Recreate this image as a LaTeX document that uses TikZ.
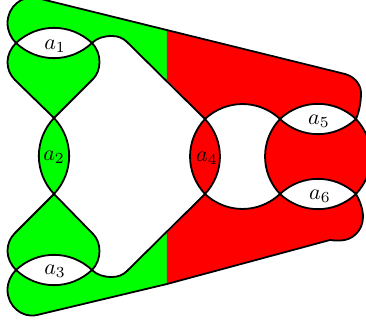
\documentclass[tikz,border=0pt]{standalone}
\tikzset{
  every picture/.style={line width=0.9pt},
  outline/.style={draw=black, line join=round},
  lab/.style={inner sep=0pt, scale=1.1},
  lensup/.style={bend left=43},
  lensdn/.style={bend right=43},
}
\begin{document}
\begin{tikzpicture}[x=0.5pt, y=-0.5pt]
  \clip (0,0) rectangle (366,321);
  % crossing points
  \coordinate (a1l) at (16,43);  \coordinate (a1r) at (92,43);
  \coordinate (a2t) at (54,118); \coordinate (a2b) at (54,194);
  \coordinate (a3l) at (16,270); \coordinate (a3r) at (92,270);
  \coordinate (a4t) at (205,119); \coordinate (a4b) at (205,194);
  \coordinate (a5l) at (280,119); \coordinate (a5r) at (356,119);
  \coordinate (a6l) at (280,194); \coordinate (a6r) at (356,194);
  % green parts
  \fill[green] (a1l) .. controls (11,38) and (7.5,31) .. (7.5,23) .. controls (7.5,7) and (22,-5.5) .. (37,-2)
    -- (167,30) -- (167,80) -- (127,42) .. controls (123,38) and (118,36) .. (112,36)
    .. controls (104,36) and (97,38) .. (a1r) to[lensdn] (a1l);
  \fill[green] (a1l) to[lensdn] (a1r) .. controls (97,48) and (99.5,55) .. (99.5,62) .. controls (99.5,69) and (97,75) .. (93,79)
    -- (a2t) -- (15,80) .. controls (10,75) and (7.5,69) .. (7.5,62) .. controls (7.5,55) and (11,48) .. (a1l);
  \fill[green] (a2t) to[lensup] (a2b) to[lensup] (a2t);
  \fill[green] (a3l) to[lensup] (a3r) .. controls (97,265) and (99.5,258) .. (99.5,251) .. controls (99.5,244) and (97,238) .. (93,234)
    -- (a2b) -- (15,233) .. controls (10,238) and (7.5,244) .. (7.5,251) .. controls (7.5,258) and (11,265) .. (a3l);
  \fill[green] (a3l) .. controls (11,275) and (7.5,282) .. (7.5,290) .. controls (7.5,306) and (22,318.5) .. (37,315)
    -- (167,284) -- (167,233) -- (127,271) .. controls (123,275) and (118,277) .. (112,277)
    .. controls (104,277) and (97,275) .. (a3r) to[lensup] (a3l);
  % red parts
  \fill[red] (167,30) -- (345,74) .. controls (354,76.5) and (361,84) .. (361,93) .. controls (361,103) and (359,112) .. (a5r)
    to[lensdn] (a5l) to[lensdn] (a4t) -- (167,80) -- cycle;
  \fill[red] (a4t) to[lensup] (a4b) to[lensup] (a4t);
  \fill[red] (a5l) to[lensdn] (a5r) to[lensup] (a6r) to[lensdn] (a6l) to[lensup] (a5l);
  \fill[red] (167,284) -- (330,240) .. controls (333,240.5) and (337,240.5) .. (340,240.5) .. controls (353,240.5) and (363,230) .. (363,217)
    .. controls (363,209) and (360,201) .. (a6r) to[lensup] (a6l) to[lensup] (a4b) -- (167,233) -- cycle;
  % outlines, top
  \draw[outline] (a1l) .. controls (11,38) and (7.5,31) .. (7.5,23) .. controls (7.5,7) and (22,-5.5) .. (37,-2)
    -- (345,74) .. controls (354,76.5) and (361,84) .. (361,93) .. controls (361,103) and (359,112) .. (a5r);
  \draw[outline] (a1l) to[lensup] (a1r);
  \draw[outline] (a1l) to[lensdn] (a1r);
  \draw[outline] (a1l) .. controls (11,48) and (7.5,55) .. (7.5,62) .. controls (7.5,69) and (10,75) .. (15,80) -- (a2t);
  \draw[outline] (a1r) .. controls (97,48) and (99.5,55) .. (99.5,62) .. controls (99.5,69) and (97,75) .. (93,79) -- (a2t);
  \draw[outline] (a1r) .. controls (97,38) and (104,36) .. (112,36) .. controls (118,36) and (123,38) .. (127,42) -- (a4t);
  % outlines, bottom
  \draw[outline] (a3l) .. controls (11,275) and (7.5,282) .. (7.5,290) .. controls (7.5,306) and (22,318.5) .. (37,315)
    -- (167,284) -- (330,240) .. controls (333,240.5) and (337,240.5) .. (340,240.5) .. controls (353,240.5) and (363,230) .. (363,217)
    .. controls (363,209) and (360,201) .. (a6r);
  \draw[outline] (a3l) to[lensup] (a3r);
  \draw[outline] (a3l) to[lensdn] (a3r);
  \draw[outline] (a3l) .. controls (11,265) and (7.5,258) .. (7.5,251) .. controls (7.5,244) and (10,238) .. (15,233) -- (a2b);
  \draw[outline] (a3r) .. controls (97,265) and (99.5,258) .. (99.5,251) .. controls (99.5,244) and (97,238) .. (93,234) -- (a2b);
  \draw[outline] (a3r) .. controls (97,275) and (104,277) .. (112,277) .. controls (118,277) and (123,275) .. (127,271) -- (a4b);
  % lenses
  \draw[outline] (a2t) to[lensup] (a2b) to[lensup] (a2t);
  \draw[outline] (a4t) to[lensup] (a4b) to[lensup] (a4t);
  \draw[outline] (a4t) to[lensup] (a5l);
  \draw[outline] (a4b) to[lensdn] (a6l);
  \draw[outline] (a5l) to[lensup] (a5r);
  \draw[outline] (a5l) to[lensdn] (a5r);
  \draw[outline] (a6l) to[lensup] (a6r);
  \draw[outline] (a6l) to[lensdn] (a6r);
  \draw[outline] (a5l) to[lensdn] (a6l);
  \draw[outline] (a5r) to[lensup] (a6r);
  % labels
  \node[lab] (la1) at (55,46) {$a_1$};
  \node[lab] (la2) at (54,157) {$a_2$};
  \node[lab] (la3) at (55,271) {$a_3$};
  \node[lab] (la4) at (207,158) {$a_4$};
  \node[lab] (la5) at (319,121) {$a_5$};
  \node[lab] (la6) at (320,196) {$a_6$};
\end{tikzpicture}
\end{document}
